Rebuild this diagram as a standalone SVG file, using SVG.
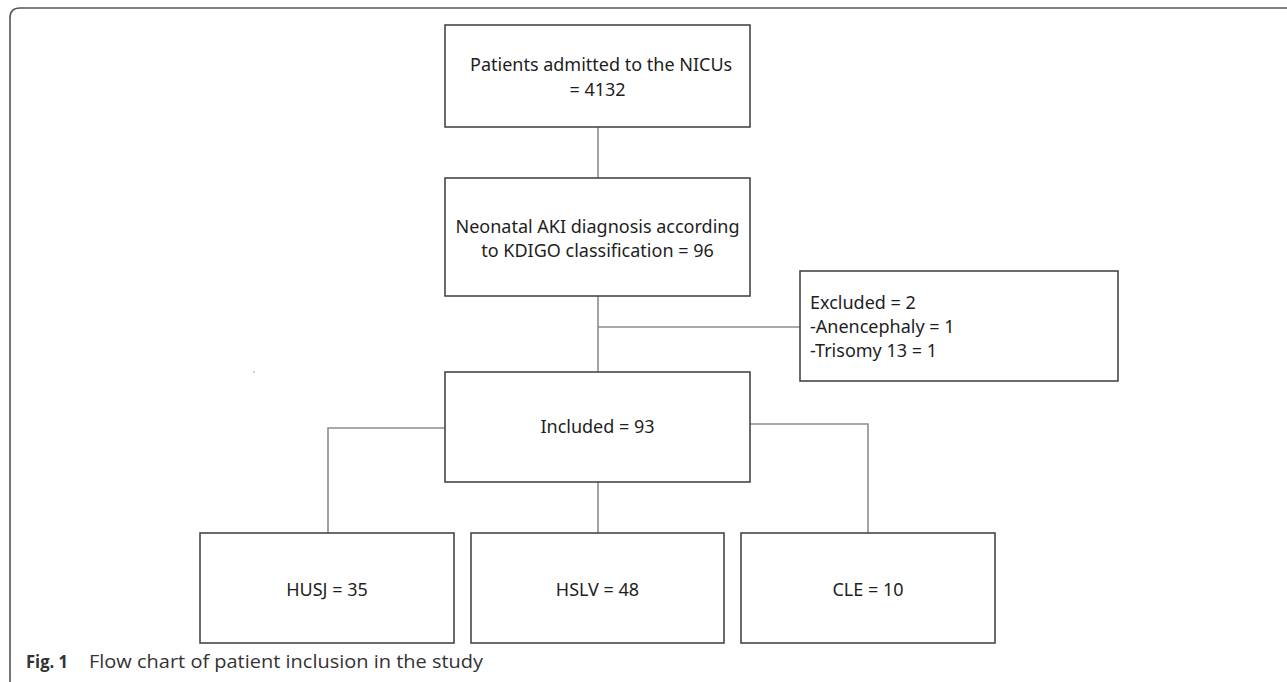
<svg xmlns="http://www.w3.org/2000/svg" width="1287" height="682" viewBox="0 0 1287 682">
<style>
.box{fill:#fff;stroke:#474747;stroke-width:1.6}
.con{fill:none;stroke:#8c8c8c;stroke-width:1.6}
.t{font-family:"Noto Sans","Open Sans",sans-serif;font-size:18px;fill:#1e1e1e}
.m{text-anchor:middle}
.cap{font-family:"Open Sans","Noto Sans",sans-serif;font-size:17.5px;fill:#333}
</style>
<rect width="1287" height="682" fill="#fff"/>
<path d="M10 682 V18 Q10 8 20 8 H1287" fill="none" stroke="#555" stroke-width="1.6"/>
<g id="connectors">
<path class="con" d="M598 127 V178"/>
<path class="con" d="M598 296 V372"/>
<path class="con" d="M598 327 H800"/>
<path class="con" d="M445 428 H328 V533"/>
<path class="con" d="M750 424 H868 V533"/>
<path class="con" d="M598 482 V533"/>
</g>
<g id="n1">
<rect class="box" x="445" y="25" width="305" height="102"/>
<text class="t" x="470" y="71">Patients admitted to the NICUs</text>
<text class="t m" x="597.5" y="96">= 4132</text>
</g>
<g id="n2">
<rect class="box" x="445" y="178" width="305" height="118"/>
<text class="t m" x="597.5" y="233">Neonatal AKI diagnosis according</text>
<text class="t m" x="597.5" y="257">to KDIGO classification = 96</text>
</g>
<g id="n3">
<rect class="box" x="800" y="271" width="318" height="110"/>
<text class="t" x="810" y="309">Excluded = 2</text>
<text class="t" x="810" y="333">-Anencephaly = 1</text>
<text class="t" x="810" y="357">-Trisomy 13 = 1</text>
</g>
<g id="n4">
<rect class="box" x="445" y="372" width="305" height="110"/>
<text class="t m" x="597.5" y="433">Included = 93</text>
</g>
<g id="n5">
<rect class="box" x="200" y="533" width="254" height="110"/>
<text class="t m" x="327" y="596">HUSJ = 35</text>
</g>
<g id="n6">
<rect class="box" x="471" y="533" width="253" height="110"/>
<text class="t m" x="597.5" y="596">HSLV = 48</text>
</g>
<g id="n7">
<rect class="box" x="741" y="533" width="254" height="110"/>
<text class="t m" x="868" y="596">CLE = 10</text>
</g>
<circle cx="254" cy="372" r="0.8" fill="#999"/>
<text class="cap" x="26" y="668" font-weight="bold" fill="#222" textLength="42" lengthAdjust="spacingAndGlyphs">Fig. 1</text>
<text class="cap" x="89" y="668" textLength="394" lengthAdjust="spacingAndGlyphs">Flow chart of patient inclusion in the study</text>
</svg>
